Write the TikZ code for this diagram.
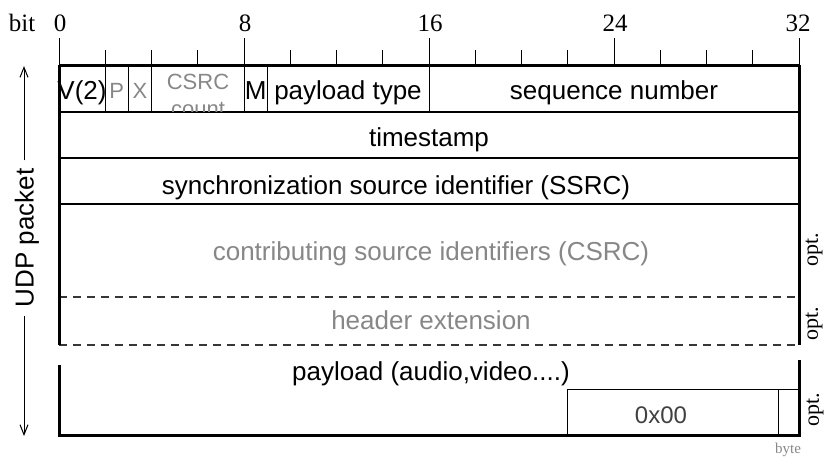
\documentclass[tikz,border=0pt]{standalone}
\usepackage{fontspec}
\setmainfont{Liberation Serif}
\newfontfamily\arialf{Liberation Sans}
\usetikzlibrary{arrows.meta}
\definecolor{txtgray}{RGB}{135,135,135}
\definecolor{dashgray}{RGB}{55,55,55}
\begin{document}
\begin{tikzpicture}[x=1pt,y=-1pt,
  field/.style={font=\arialf\fontsize{26}{28}\selectfont, inner sep=0pt, anchor=base},
  gfield/.style={field, text=txtgray},
  smallg/.style={font=\arialf\fontsize{22}{22}\selectfont, inner sep=0pt, anchor=base, text=txtgray},
  rulerlbl/.style={font=\fontsize{25}{25}\selectfont, inner sep=0pt, anchor=base},
  optlbl/.style={font=\fontsize{22}{22}\selectfont, inner sep=0pt, rotate=90, anchor=center},
  thickln/.style={line width=3pt},
  rowln/.style={line width=1.5pt},
  thinln/.style={line width=1pt},
  dashln/.style={line width=1.5pt, dashgray, dash pattern=on 8pt off 6pt},
  tickln/.style={line width=1pt}
]
\useasboundingbox (0,0) rectangle (828,459);

% ruler labels
\node[rulerlbl] (bitlbl) at (22,31) {bit};
\node[rulerlbl] (b0) at (60,31) {0};
\node[rulerlbl] (b8) at (245,31) {8};
\node[rulerlbl] (b16) at (430,31) {16};
\node[rulerlbl] (b24) at (615,31) {24};
\node[rulerlbl] (b32) at (798,31) {32};

% ticks every 2 bits
\foreach \k in {0,...,16}{
  \pgfmathsetmacro{\xx}{59+46.25*\k}
  \pgfmathtruncatemacro{\mm}{mod(\k,4)}
  \ifnum\mm=0
    \draw[tickln] (\xx,38) -- (\xx,65);
  \else
    \draw[tickln] (\xx,50) -- (\xx,65);
  \fi
}

% row separators
\draw[rowln] (59,112) -- (799,112);
\draw[rowln] (59,158) -- (799,158);
\draw[rowln] (59,204) -- (799,204);
\draw[dashln] (59,297) -- (799,297);
\draw[dashln] (59,345) -- (799,345);

% first row field separators
\foreach \xx in {105.25,128.375,151.5,244,267.125,429}{
  \draw[thinln] (\xx,65) -- (\xx,112);
}

% outer frame
\draw[thickln] (59,65) -- (799,65);
\draw[thickln] (59,65) -- (59,345);
\draw[thickln] (799,65) -- (799,345);
\draw[thickln] (59,365) -- (59,435) -- (799,435) -- (799,360);

% padding box
\draw[thinln] (567,435) -- (567,389) -- (799,389);
\draw[thinln] (778,389) -- (778,435);

% row 1 texts
\node[field] (ver) at (82,99) {V(2)};
\node[smallg] (pad) at (116.8,98) {P};
\node[smallg] (ext) at (140,98) {X};
\begin{scope}
  \clip (151.5,66) rectangle (244,111);
  \node[smallg] (cc1) at (198,89) {CSRC};
  \node[smallg] (cc2) at (198,116) {count};
\end{scope}
\node[field] (mark) at (255.6,99) {M};
\node[field] (pt) at (348,99) {payload type};
\node[field] (seq) at (614,99) {sequence number};

% other rows
\node[field] (ts) at (429,146) {timestamp};
\node[field] (ssrc) at (396,194) {synchronization source identifier (SSRC)};
\node[gfield] (csrc) at (431,260) {contributing source identifiers (CSRC)};
\node[gfield] (hext) at (431,329) {header extension};
\node[field] (pay) at (431,380) {payload (audio,video....)};
\node[field, text=black!75, font=\arialf\fontsize{24}{24}\selectfont] (zero) at (661,423) {0x00};

% opt labels
\node[optlbl] (opt1) at (814,250) {opt.};
\node[optlbl] (opt2) at (814,324) {opt.};
\node[optlbl] (opt3) at (815,410) {opt.};
\node[font=\fontsize{15}{15}\selectfont, text=txtgray, inner sep=0pt, anchor=base] (byte) at (788,453) {byte};

% UDP packet arrow
\node[font=\arialf\fontsize{26}{26}\selectfont, inner sep=0pt, rotate=90, anchor=center] (udp) at (27,238) {UDP packet};
\coordinate (udptop) at (24,66);
\coordinate (udpbot) at (24,436);
\draw[line width=1pt, -{Straight Barb[length=10pt,width=8pt]}] (udp.east -| udptop) ++(0,-8) -- (udptop);
\draw[line width=1pt, -{Straight Barb[length=10pt,width=8pt]}] (udp.west -| udpbot) ++(0,8) -- (udpbot);
\end{tikzpicture}
\end{document}
